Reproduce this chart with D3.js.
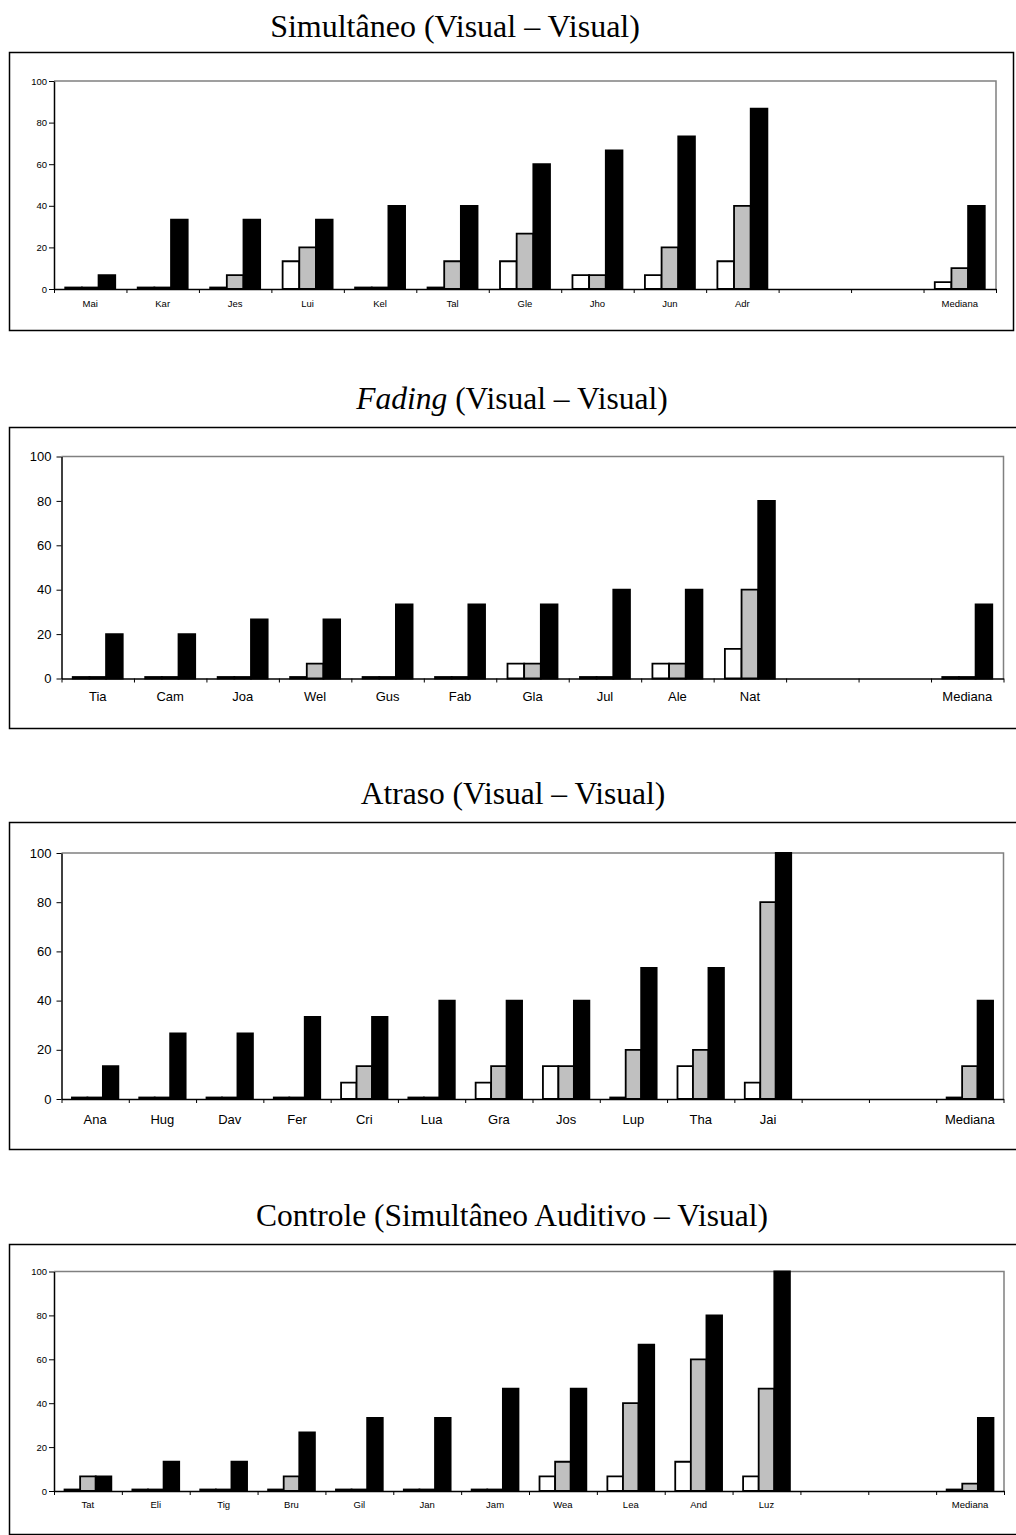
<!DOCTYPE html>
<html>
<head>
<meta charset="utf-8">
<script src="https://cdn.jsdelivr.net/npm/d3@7"></script>
<style>
  body { margin: 0; background: #fff; }
  svg { display: block; }
</style>
</head>
<body>
<svg id="chart" width="1016" height="1535"></svg>
<script>
// values (percent); null = empty slot before the median
var simCats  = ["Mai","Kar","Jes","Lui","Kel","Tal","Gle","Jho","Jun","Adr","","","Mediana"];
var simWhite = [0, 0, 0, 13.33, 0, 0, 13.33, 6.67, 6.67, 13.33, null, null, 3.33];
var simGray  = [0, 0, 6.67, 20, 0, 13.33, 26.67, 6.67, 20, 40, null, null, 10];
var simBlack = [6.67, 33.33, 33.33, 33.33, 40, 40, 60, 66.67, 73.33, 86.67, null, null, 40];

var fadCats  = ["Tia","Cam","Joa","Wel","Gus","Fab","Gla","Jul","Ale","Nat","","","Mediana"];
var fadWhite = [0, 0, 0, 0, 0, 0, 6.67, 0, 6.67, 13.33, null, null, 0];
var fadGray  = [0, 0, 0, 6.67, 0, 0, 6.67, 0, 6.67, 40, null, null, 0];
var fadBlack = [20, 20, 26.67, 26.67, 33.33, 33.33, 33.33, 40, 40, 80, null, null, 33.33];

var atrCats  = ["Ana","Hug","Dav","Fer","Cri","Lua","Gra","Jos","Lup","Tha","Jai","","","Mediana"];
var atrWhite = [0, 0, 0, 0, 6.67, 0, 6.67, 13.33, 0, 13.33, 6.67, null, null, 0];
var atrGray  = [0, 0, 0, 0, 13.33, 0, 13.33, 13.33, 20, 20, 80, null, null, 13.33];
var atrBlack = [13.33, 26.67, 26.67, 33.33, 33.33, 40, 40, 40, 53.33, 53.33, 100, null, null, 40];

var conCats  = ["Tat","Eli","Tig","Bru","Gil","Jan","Jam","Wea","Lea","And","Luz","","","Mediana"];
var conWhite = [0, 0, 0, 0, 0, 0, 0, 6.67, 6.67, 13.33, 6.67, null, null, 0];
var conGray  = [6.67, 0, 0, 6.67, 0, 0, 0, 13.33, 40, 60, 46.67, null, null, 3.33];
var conBlack = [6.67, 13.33, 13.33, 26.67, 33.33, 33.33, 46.67, 46.67, 66.67, 80, 100, null, null, 33.33];

var yTicks = [0, 20, 40, 60, 80, 100];
var seriesFill = ["#ffffff", "#c0c0c0", "#000000"];

var panels = [
  { title: [["Simultâneo", false], [" (Visual – Visual)", false]], cats: simCats, series: [simWhite, simGray, simBlack],
    titleX: 455, titleY: 37, titleSize: 32, box: [9, 52, 1004, 278], plot: [54, 81, 996, 289], font: 9.5, tickPad: 2, labelDy: 15 },
  { title: [["Fading", true], [" (Visual – Visual)", false]], cats: fadCats, series: [fadWhite, fadGray, fadBlack],
    titleX: 512, titleY: 409, titleSize: 31.5, box: [9, 427, 1015, 301], plot: [61.5, 456.5, 1003.5, 678.5], font: 13, tickPad: 5, labelDy: 18 },
  { title: [["Atraso (Visual – Visual)", false]], cats: atrCats, series: [atrWhite, atrGray, atrBlack],
    titleX: 513, titleY: 804, titleSize: 31.5, box: [9, 822, 1015, 327], plot: [61.5, 853, 1003.5, 1099], font: 13, tickPad: 5, labelDy: 20 },
  { title: [["Controle (Simultâneo Auditivo – Visual)", false]], cats: conCats, series: [conWhite, conGray, conBlack],
    titleX: 512, titleY: 1226, titleSize: 31.5, box: [9, 1244, 1015, 290], plot: [54, 1271.5, 1004, 1491], font: 9.5, tickPad: 2, labelDy: 14 }
];

var svg = d3.select("#chart");

panels.forEach(function(p) {
  var g = svg.append("g");

  // outer frame
  g.append("rect")
    .attr("x", p.box[0] + 0.5).attr("y", p.box[1] + 0.5)
    .attr("width", p.box[2]).attr("height", p.box[3])
    .attr("fill", "none").attr("stroke", "#000").attr("stroke-width", 1.5);

  // title
  var t = g.append("text")
    .attr("x", p.titleX).attr("y", p.titleY)
    .attr("text-anchor", "middle")
    .style("font-family", "'Liberation Serif', 'Times New Roman', serif")
    .style("font-size", p.titleSize + "px");
  p.title.forEach(function(part) {
    t.append("tspan").text(part[0]).style("font-style", part[1] ? "italic" : "normal");
  });

  var left = p.plot[0], top = p.plot[1], right = p.plot[2], bottom = p.plot[3];
  var idx = d3.range(p.cats.length);

  var x0 = d3.scaleBand().domain(idx).range([left, right]);
  var groupW = x0.bandwidth() * 0.69;
  var x1 = d3.scaleBand().domain([0, 1, 2]).range([0, groupW]);
  var xEdge = d3.scaleLinear().domain([0, p.cats.length]).range([left, right]);
  var y = d3.scaleLinear().domain([0, 100]).range([bottom, top]);

  // plot area frame (grey top & right)
  g.append("path")
    .attr("d", "M" + left + "," + top + "H" + right + "V" + bottom)
    .attr("fill", "none").attr("stroke", "#808080").attr("stroke-width", 1.5);

  // y axis
  var ya = g.append("g")
    .attr("transform", "translate(" + left + ",0)")
    .call(d3.axisLeft(y).tickValues(yTicks).tickSize(5).tickPadding(p.tickPad).tickSizeOuter(0));
  ya.select(".domain").attr("stroke-width", 1.5);
  ya.selectAll("text")
    .style("font-family", "'Liberation Sans', Arial, sans-serif")
    .style("font-size", p.font + "px");

  // x axis: tick marks between categories
  var xa = g.append("g")
    .attr("transform", "translate(0," + bottom + ")")
    .call(d3.axisBottom(xEdge).tickValues(d3.range(p.cats.length + 1)).tickFormat("").tickSize(4).tickSizeOuter(0));
  xa.select(".domain").attr("stroke-width", 1.5);

  // bars (paths so that zero values still show their outline)
  p.series.forEach(function(vals, s) {
    g.append("g").selectAll("path")
      .data(vals.map(function(v, i) { return { i: i, v: v }; }).filter(function(d) { return d.v !== null; }))
      .enter().append("path")
        .attr("d", function(d) {
          var bx = x0(d.i) + (x0.bandwidth() - groupW) / 2 + x1(s);
          var by = Math.min(y(d.v), y(0) - 1.5);
          return "M" + bx + "," + y(0) + "V" + by + "H" + (bx + x1.bandwidth()) + "V" + y(0) + "Z";
        })
        .attr("fill", seriesFill[s])
        .attr("stroke", "#000")
        .attr("stroke-width", 1.8);
  });

  // category labels
  g.append("g").selectAll("text")
    .data(idx.filter(function(i) { return p.cats[i] !== ""; }))
    .enter().append("text")
      .attr("x", function(i) { return x0(i) + x0.bandwidth() / 2; })
      .attr("y", bottom + p.labelDy)
      .attr("dy", "0.35em")
      .attr("text-anchor", "middle")
      .style("font-family", "'Liberation Sans', Arial, sans-serif")
      .style("font-size", p.font + "px")
      .text(function(i) { return p.cats[i]; });
});
</script>
</body>
</html>
